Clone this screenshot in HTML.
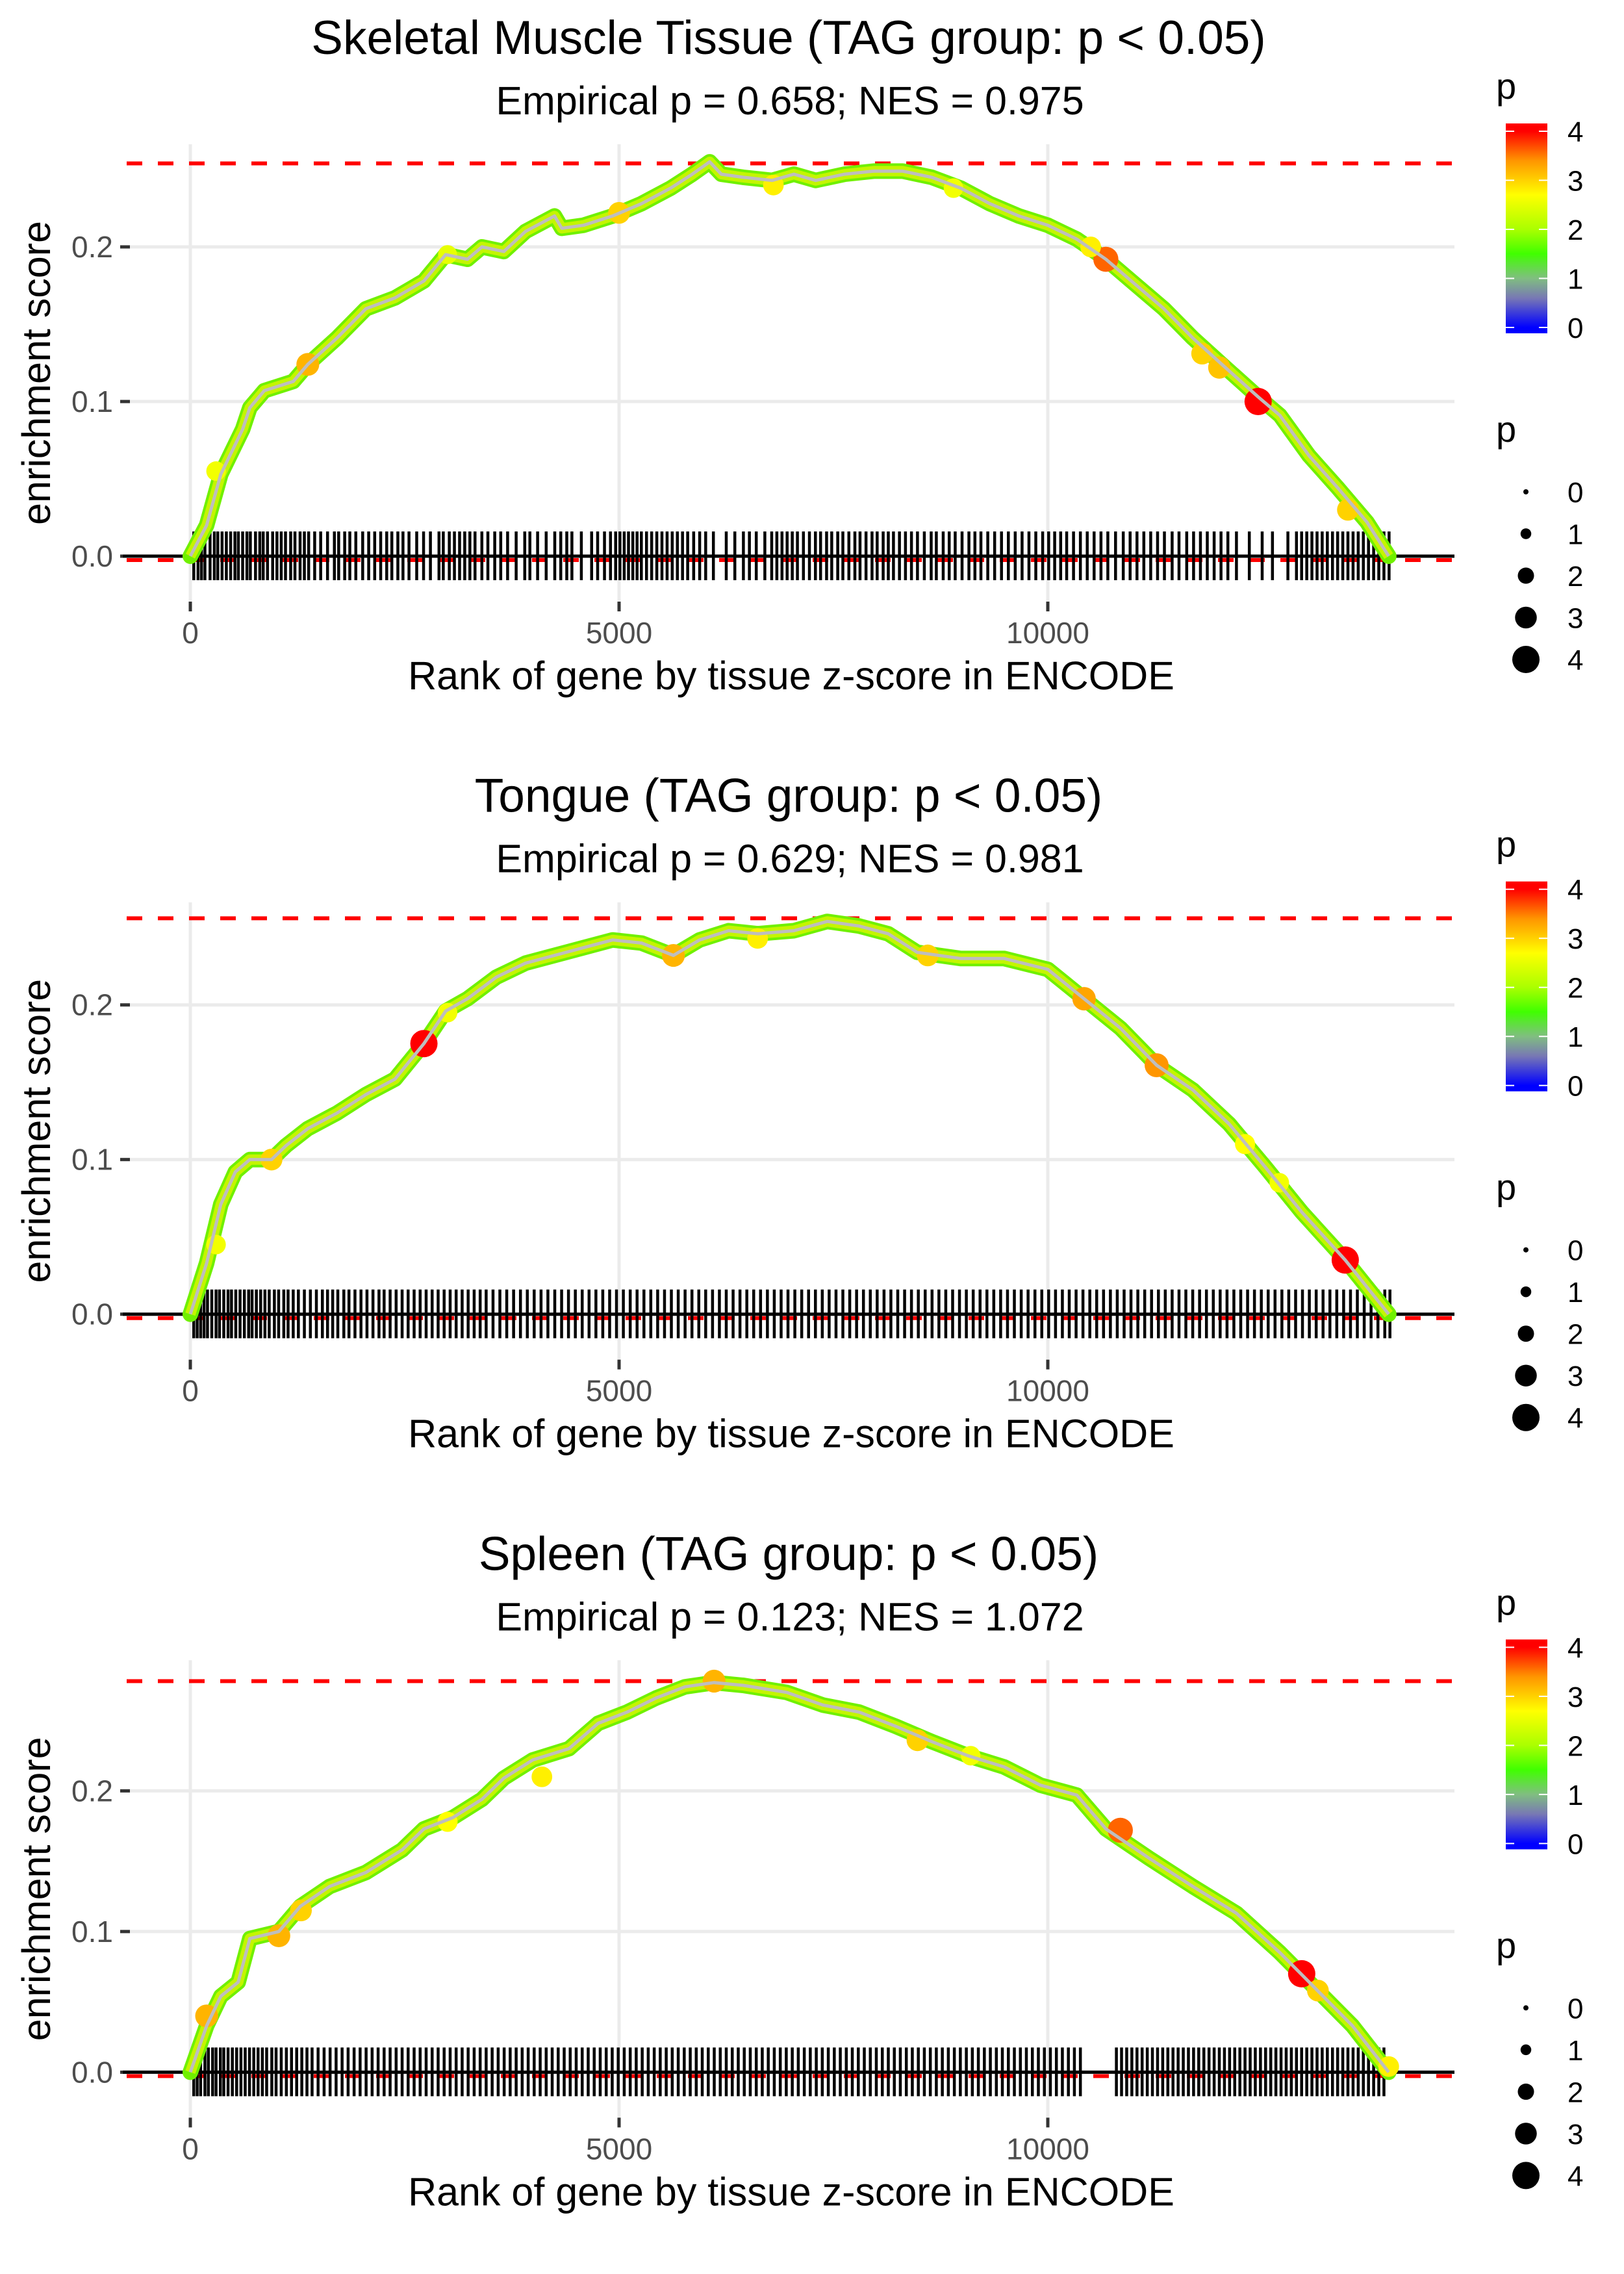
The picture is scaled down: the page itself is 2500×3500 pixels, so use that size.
<!DOCTYPE html>
<html><head><meta charset="utf-8"><style>
html,body{margin:0;padding:0;background:#fff}
svg{display:block}
text{font-family:"Liberation Sans",Arial,sans-serif}
</style></head><body>
<svg id="chart" xmlns="http://www.w3.org/2000/svg" width="2500" height="3500" viewBox="0 0 2500 3500"></svg>
<script>
// ---------- data ----------
const panelTitles = ["Skeletal Muscle Tissue (TAG group: p < 0.05)", "Tongue (TAG group: p < 0.05)", "Spleen (TAG group: p < 0.05)"];
const panelSubtitles = ["Empirical p = 0.658; NES = 0.975", "Empirical p = 0.629; NES = 0.981", "Empirical p = 0.123; NES = 1.072"];
const maxES = [0.254, 0.256, 0.278];
const xTicks = [0, 5000, 10000];
const xTickLabels = ["0", "5000", "10000"];
const yTicks = [0, 0.1, 0.2];
const yTickLabels = ["0.0", "0.1", "0.2"];
const legendTicks = [0, 1, 2, 3, 4];

const ranks1 = [0,190,355,610,694,863,1200,1370,1709,2047,2386,2724,2978,3232,3401,3655,3909,4247,4332,4585,4924,5262,5601,5854,6057,6193,6447,6785,7039,7293,7631,7970,8308,8646,8985,9323,9662,10000,10338,10677,11015,11354,11692,12030,12453,12707,13046,13384,13722,13976];
const es1 = [0,0.02,0.053,0.082,0.096,0.107,0.113,0.124,0.141,0.16,0.167,0.178,0.195,0.192,0.2,0.197,0.21,0.22,0.212,0.214,0.22,0.228,0.238,0.247,0.255,0.247,0.245,0.243,0.247,0.243,0.247,0.249,0.249,0.245,0.238,0.228,0.22,0.214,0.205,0.192,0.176,0.16,0.141,0.124,0.103,0.091,0.065,0.044,0.022,0];
const ranks2 = [0,190,355,525,694,947,1116,1370,1709,2047,2386,2724,2978,3232,3570,3909,4247,4585,4924,5262,5634,5939,6277,6616,7039,7428,7800,8139,8477,8985,9492,10000,10423,10846,11269,11692,12115,12538,12961,13469,13976];
const es2 = [0,0.033,0.071,0.092,0.1,0.1,0.109,0.12,0.13,0.142,0.152,0.175,0.196,0.204,0.218,0.227,0.232,0.237,0.242,0.24,0.232,0.242,0.248,0.246,0.248,0.254,0.251,0.246,0.234,0.23,0.23,0.223,0.204,0.185,0.161,0.145,0.123,0.095,0.066,0.035,0];
const ranks3 = [0,190,355,558,694,1032,1285,1624,2047,2470,2724,3062,3401,3655,3994,4416,4755,5093,5431,5770,6108,6447,6954,7377,7800,8223,8646,9069,9492,9915,10338,10677,11184,11692,12200,12707,13130,13553,13976];
const es3 = [0,0.033,0.054,0.064,0.095,0.1,0.118,0.132,0.142,0.158,0.173,0.181,0.194,0.209,0.222,0.23,0.248,0.256,0.266,0.274,0.277,0.275,0.27,0.261,0.256,0.246,0.235,0.225,0.217,0.204,0.197,0.173,0.152,0.132,0.113,0.085,0.059,0.033,0];

// highlighted points: rank, es, p
const hiRank1 = [1370,10677,11800,12000,12453,5000,6800,13500,3000,8900,300,10500];
const hiEs1 = [0.124,0.192,0.131,0.122,0.1,0.222,0.24,0.03,0.195,0.238,0.055,0.2];
const hiP1 = [3.2,3.6,3,3.1,4,3,2.8,3,2.5,2.6,2.6,2.8];
const hiRank2 = [947,2724,5634,6616,10423,11269,12700,13469,3000,8600,12300,300];
const hiEs2 = [0.1,0.175,0.232,0.243,0.204,0.161,0.085,0.035,0.195,0.232,0.11,0.045];
const hiP2 = [3,4,3.2,2.8,3.3,3.4,2.6,4,2.6,3,2.7,2.6];
const hiRank3 = [190,1032,1290,6108,8480,10846,12961,13150,13976,3000,4100,9100];
const hiEs3 = [0.04,0.097,0.115,0.278,0.236,0.172,0.07,0.058,0.004,0.178,0.21,0.225];
const hiP3 = [3.2,3.2,3,3.2,3,3.6,4,3,2.8,2.7,2.8,2.6];

const rug1 = [40,90,130,170,230,280,320,370,420,470,520,560,610,660,700,760,810,850,900,960,1010,1060,1110,1170,1220,1280,1330,1380,1450,1520,1600,1680,1730,1800,1860,1930,2010,2080,2150,2220,2290,2350,2420,2480,2550,2640,2720,2800,2900,2950,3020,3080,3140,3200,3260,3320,3400,3470,3550,3620,3700,3800,3900,3960,4050,4150,4250,4320,4390,4450,4560,4680,4750,4830,4900,4960,5010,5060,5110,5160,5210,5260,5320,5380,5440,5500,5560,5620,5680,5740,5800,5870,5940,6010,6100,6250,6350,6450,6520,6600,6700,6780,6840,6900,6960,7020,7080,7150,7220,7290,7350,7420,7480,7550,7610,7680,7750,7810,7880,7950,8010,8080,8140,8200,8270,8340,8410,8480,8560,8640,8700,8780,8850,8920,9000,9080,9150,9220,9300,9380,9460,9540,9620,9700,9780,9860,9940,10010,10080,10150,10220,10300,10380,10460,10540,10620,10700,10790,10880,10960,11040,11120,11200,11280,11360,11450,11530,11620,11700,11780,11860,11940,12020,12100,12200,12350,12500,12620,12800,12900,12960,13020,13080,13140,13200,13260,13320,13380,13440,13500,13560,13620,13680,13740,13800,13860,13920,13980];
const rug2 = [40,80,120,160,200,250,300,340,390,440,480,530,580,630,680,720,770,820,870,920,980,1030,1090,1140,1200,1260,1330,1400,1470,1540,1600,1660,1720,1790,1850,1920,1990,2060,2130,2200,2260,2330,2400,2470,2540,2610,2680,2750,2820,2890,2960,3030,3100,3170,3240,3310,3380,3450,3530,3610,3690,3770,3850,3930,4010,4090,4170,4250,4330,4410,4490,4570,4650,4730,4810,4890,4970,5050,5130,5210,5290,5370,5450,5530,5610,5690,5770,5850,5930,6010,6090,6170,6250,6330,6410,6490,6570,6650,6730,6810,6890,6970,7050,7130,7210,7290,7370,7450,7530,7610,7690,7770,7850,7930,8010,8090,8170,8250,8330,8410,8490,8570,8650,8730,8810,8890,8970,9050,9130,9210,9290,9370,9450,9530,9610,9690,9770,9850,9930,10010,10090,10170,10250,10330,10410,10490,10570,10650,10730,10810,10890,10970,11050,11130,11210,11290,11370,11450,11530,11610,11690,11770,11850,11930,12010,12090,12170,12250,12330,12410,12490,12570,12650,12730,12810,12890,12970,13050,13130,13210,13290,13370,13450,13530,13610,13690,13770,13850,13930,13990];
const rug3 = [40,80,120,170,210,260,300,350,390,440,490,540,590,640,690,740,790,840,890,950,1000,1060,1120,1180,1240,1300,1360,1420,1490,1560,1630,1700,1770,1840,1910,1980,2050,2120,2190,2260,2330,2400,2470,2540,2610,2680,2750,2820,2890,2960,3030,3100,3170,3240,3310,3380,3450,3520,3590,3660,3730,3800,3870,3940,4010,4080,4150,4220,4290,4360,4430,4500,4570,4640,4710,4780,4850,4920,4990,5060,5130,5200,5270,5340,5410,5480,5550,5620,5690,5760,5830,5900,5970,6040,6110,6180,6250,6320,6390,6460,6530,6600,6670,6740,6810,6880,6950,7020,7090,7160,7230,7300,7370,7440,7510,7580,7650,7720,7790,7860,7930,8000,8070,8140,8210,8280,8350,8420,8490,8560,8630,8700,8770,8840,8910,8980,9050,9120,9190,9260,9330,9400,9470,9540,9610,9680,9750,9820,9890,9960,10030,10100,10170,10240,10310,10380,10800,10860,10920,10980,11040,11100,11160,11220,11280,11340,11400,11460,11520,11580,11640,11700,11760,11820,11880,11940,12000,12060,12120,12180,12240,12300,12360,12420,12480,12540,12600,12660,12720,12780,12840,12900,12960,13020,13080,13140,13200,13260,13320,13380,13440,13500,13560,13620,13680,13740,13800,13860,13920];

const panelRanks = [ranks1, ranks2, ranks3];
const panelEs = [es1, es2, es3];
const panelHiRank = [hiRank1, hiRank2, hiRank3];
const panelHiEs = [hiEs1, hiEs2, hiEs3];
const panelHiP = [hiP1, hiP2, hiP3];
const panelRug = [rug1, rug2, rug3];
const yScalePerUnit = [2380, 2380, 2165];

// ---------- drawing ----------
const NS = "http://www.w3.org/2000/svg";
const svg = document.getElementById("chart");
function el(tag, attrs, parent) {
  const e = document.createElementNS(NS, tag);
  for (const k in attrs) e.setAttribute(k, attrs[k]);
  (parent || svg).appendChild(e);
  return e;
}
const PL = 189, PR = 2239, PT = 222, PB = 928;
const X0 = 293, XK = 0.132, Y0 = 856;
function xs(r) { return X0 + r * XK; }

const colorStops = [[0, [0, 0, 255]], [0.6, [120, 120, 180]], [1, [128, 190, 128]], [1.5, [64, 255, 0]], [2, [170, 255, 0]], [2.7, [255, 255, 0]], [3.4, [255, 150, 0]], [4, [255, 0, 0]]];
function pColor(p) {
  for (let i = 1; i < colorStops.length; i++) {
    if (p <= colorStops[i][0]) {
      const a = colorStops[i - 1], b = colorStops[i];
      const t = (p - a[0]) / (b[0] - a[0]);
      const c = a[1].map((v, j) => Math.round(v + (b[1][j] - v) * t));
      return "rgb(" + c.join(",") + ")";
    }
  }
  return "rgb(255,0,0)";
}
function pRadius(p) { return 4 + p * 4.25; }

for (let k = 0; k < 3; k++) {
  const off = k * 1166.7;
  const g = el("g", { transform: "translate(0," + off + ")" });
  
  
  const S = yScalePerUnit[k];
  const ys = v => Y0 - v * S;

  const t = el("text", { x: 1214, y: 83, "text-anchor": "middle", "font-size": 73, fill: "#000" }, g);
  t.textContent = panelTitles[k];
  
  
  const st = el("text", { x: 1216, y: 176, "text-anchor": "middle", "font-size": 61, fill: "#000" }, g);
  st.textContent = panelSubtitles[k];
  
  

  // gridlines
  yTicks.forEach((v, i) => {
    const l = el("line", { x1: PL, x2: PR, y1: ys(v), y2: ys(v), stroke: "#ebebeb", "stroke-width": 5 }, g);
    
    
    const tk = el("line", { x1: 185, x2: 200, y1: ys(v), y2: ys(v), stroke: "#333", "stroke-width": 5 }, g);
    
    
    const tl = el("text", { x: 174, y: ys(v) + 16, "text-anchor": "end", "font-size": 46, fill: "#4d4d4d" }, g);
    tl.textContent = yTickLabels[i];
    
    
  });
  xTicks.forEach((v, i) => {
    const l = el("line", { x1: xs(v), x2: xs(v), y1: PT, y2: PB, stroke: "#ebebeb", "stroke-width": 5 }, g);
    
    
    const tk = el("line", { x1: xs(v), x2: xs(v), y1: 926, y2: 941, stroke: "#333", "stroke-width": 5 }, g);
    
    
    const tl = el("text", { x: xs(v), y: 990, "text-anchor": "middle", "font-size": 46, fill: "#4d4d4d" }, g);
    tl.textContent = xTickLabels[i];
    
    
  });

  // dashed lines
  const d1 = el("line", { x1: 195, x2: 2239, y1: ys(maxES[k]), y2: ys(maxES[k]), stroke: "#ff0000", "stroke-width": 6, "stroke-dasharray": "24 24" }, g);
  
  
  const d2 = el("line", { x1: 195, x2: 2239, y1: Y0 + 6, y2: Y0 + 6, stroke: "#ff0000", "stroke-width": 6, "stroke-dasharray": "24 24" }, g);
  
  

  // rug
  const rg = el("g", {}, g);
  
  
  panelRug[k].forEach(r => {
    const l = el("line", { x1: xs(r), x2: xs(r), y1: 818, y2: 893, stroke: "#000", "stroke-width": 4.5 }, rg);
    
    
  });
  const z = el("line", { x1: PL, x2: PR, y1: Y0, y2: Y0, stroke: "#000", "stroke-width": 5 }, g);
  
  

  // curve
  const pts = panelRanks[k].map((r, i) => xs(r).toFixed(1) + "," + ys(panelEs[k][i]).toFixed(1)).join(" ");
  const b1 = el("polyline", { points: pts, fill: "none", stroke: "#70f000", "stroke-width": 24, "stroke-linejoin": "round", "stroke-linecap": "round" }, g);
  
  
  const b2 = el("polyline", { points: pts, fill: "none", stroke: "#c4f500", "stroke-width": 16, "stroke-linejoin": "round" }, g);
  
  
  panelHiRank[k].forEach((r, i) => {
    const c = el("circle", { cx: xs(r), cy: ys(panelHiEs[k][i]), r: pRadius(panelHiP[k][i]), fill: pColor(panelHiP[k][i]) }, g);
    
    
  });
  const ln = el("polyline", { points: pts, fill: "none", stroke: "#bebebe", "stroke-width": 5, "stroke-linejoin": "round" }, g);
  
  

  // axis titles
  const xt = el("text", { x: 1218, y: 1061, "text-anchor": "middle", "font-size": 61, fill: "#000" }, g);
  xt.textContent = "Rank of gene by tissue z-score in ENCODE";
  
  
  const yt = el("text", { x: 0, y: 0, transform: "translate(77,574) rotate(-90)", "text-anchor": "middle", "font-size": 61, fill: "#000" }, g);
  yt.textContent = "enrichment score";
  
  

  // colour legend
  const gid = "grad" + k;
  const defs = el("defs", {}, g);
  const lg = el("linearGradient", { id: gid, x1: 0, y1: 1, x2: 0, y2: 0 }, defs);
  colorStops.forEach(s => {
    el("stop", { offset: ((s[0] + 0.12) / 4.28).toFixed(3), "stop-color": pColor(s[0]) }, lg);
  });
  const lt = el("text", { x: 2303, y: 152, "font-size": 56, fill: "#000" }, g);
  lt.textContent = "p";
  
  
  const bar = el("rect", { x: 2318, y: 190, width: 64, height: 323, fill: "url(#" + gid + ")" }, g);
  
  
  legendTicks.forEach(v => {
    const yy = 504 - v * 75.5;
    el("line", { x1: 2318, x2: 2331, y1: yy, y2: yy, stroke: "#fff", "stroke-width": 2 }, g);
    el("line", { x1: 2369, x2: 2382, y1: yy, y2: yy, stroke: "#fff", "stroke-width": 2 }, g);
    const tl = el("text", { x: 2413, y: yy + 16, "font-size": 44, fill: "#000" }, g);
    tl.textContent = String(v);
    
    
  });

  // size legend
  const lt2 = el("text", { x: 2303, y: 680, "font-size": 56, fill: "#000" }, g);
  lt2.textContent = "p";
  
  
  legendTicks.forEach((v, i) => {
    const yy = 757 + i * 64.5;
    const c = el("circle", { cx: 2349, cy: yy, r: pRadius(v), fill: "#000" }, g);
    
    
    const tl = el("text", { x: 2413, y: yy + 16, "font-size": 44, fill: "#000" }, g);
    tl.textContent = String(v);
    
    
  });
}
</script>
</body></html>
